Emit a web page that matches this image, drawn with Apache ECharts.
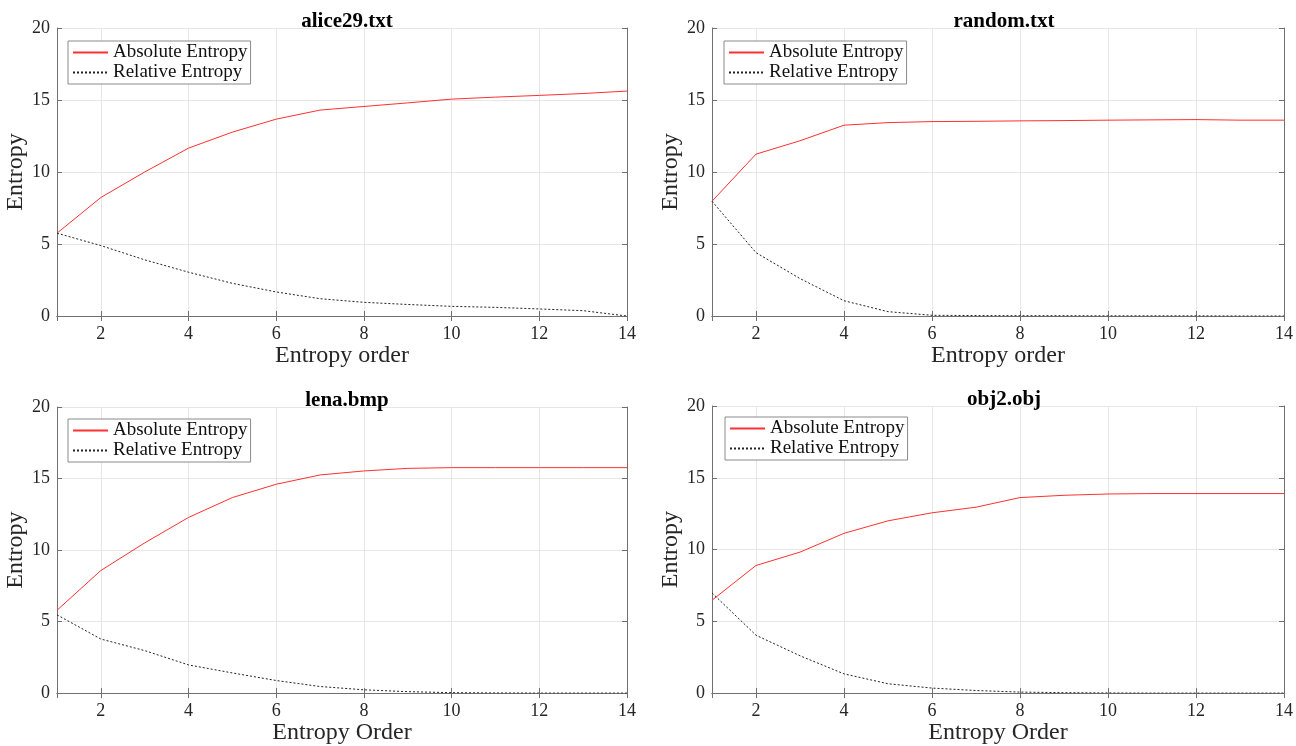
<!DOCTYPE html>
<html>
<head>
<meta charset="utf-8">
<script src="https://cdn.jsdelivr.net/npm/echarts@6/dist/echarts.min.js"></script>
<style>
html,body{margin:0;padding:0;background:#fff;}
#main{width:1296px;height:746px;}
</style>
</head>
<body>
<div id="main"></div>
<script>
// ---- Data ----
const orders = [1,2,3,4,5,6,7,8,9,10,11,12,13,14];
const titles = ['alice29.txt','random.txt','lena.bmp','obj2.obj'];
const xNames = ['Entropy order','Entropy order','Entropy Order','Entropy Order'];
const yName = 'Entropy';
const seriesNames = ['Absolute Entropy','Relative Entropy'];
const yTicks = [0,5,10,15,20];
const xTicks = [2,4,6,8,10,12,14];

const aliceAbs = [5.75,8.23,10.0,11.66,12.77,13.67,14.3,14.55,14.8,15.06,15.2,15.32,15.45,15.62];
const aliceRel = [5.75,4.89,3.9,3.04,2.27,1.67,1.2,0.95,0.8,0.67,0.6,0.49,0.37,0.0];
const randomAbs = [7.97,11.24,12.17,13.25,13.43,13.5,13.52,13.55,13.57,13.6,13.62,13.64,13.6,13.6];
const randomRel = [7.97,4.4,2.6,1.06,0.3,0.05,0.03,0.02,0.02,0.01,0.01,0.01,0.0,0.0];
const lenaAbs = [5.79,8.57,10.5,12.28,13.67,14.6,15.25,15.53,15.71,15.76,15.76,15.76,15.76,15.76];
const lenaRel = [5.47,3.78,2.97,1.97,1.41,0.88,0.46,0.23,0.1,0.03,0.01,0.0,0.0,0.0];
const objAbs = [6.47,8.89,9.82,11.13,12.0,12.56,12.95,13.62,13.78,13.87,13.9,13.9,13.9,13.9];
const objRel = [6.98,4.03,2.6,1.34,0.65,0.35,0.18,0.07,0.03,0.01,0.0,0.0,0.0,0.0];

const absData = [aliceAbs, randomAbs, lenaAbs, objAbs];
const relData = [aliceRel, randomRel, lenaRel, objRel];

// ---- Layout ----
const FONT = "'Liberation Serif', 'Times New Roman', serif";
const grids = [
  {left:57, top:28, width:570, height:288},
  {left:712, top:28, width:574, height:288},
  {left:57, top:407, width:570, height:287},
  {left:712, top:406, width:574, height:288}
];
const legendPos = [
  {left:68, top:41},
  {left:724, top:41},
  {left:68, top:419},
  {left:725, top:417}
];

const AXIS_COLOR = '#707070';
const LABEL_COLOR = '#262626';
const GRID_COLOR = '#e6e6e6';

const option = {
  backgroundColor:'#fff',
  animation:false,
  title:[], grid:[], xAxis:[], yAxis:[], legend:[], series:[]
};

grids.forEach((g, i) => {
  option.grid.push(Object.assign({containLabel:false}, g));
  option.title.push({
    text: titles[i],
    left: g.left + g.width/2,
    top: g.top - 22,
    textAlign: 'center',
    textStyle: {fontFamily: FONT, fontSize: 21, fontWeight: 'bold', color: '#000'}
  });
  const xBase = {
    type:'value', gridIndex:i, min:1, max:14, minInterval:2, maxInterval:2, splitNumber:7,
    axisLine:{show:true, lineStyle:{color:AXIS_COLOR, width:1}},
    axisTick:{show:true, inside:true, length:5, lineStyle:{color:AXIS_COLOR}}
  };
  option.xAxis.push(Object.assign({}, xBase, {
    position:'bottom',
    name: xNames[i], nameLocation:'middle', nameGap:27,
    nameTextStyle:{fontFamily:FONT, fontSize:24, color:LABEL_COLOR, verticalAlign:'top'},
    axisLabel:{show:true, showMinLabel:false, margin:9, fontFamily:FONT, fontSize:18, color:LABEL_COLOR,
      formatter: v => xTicks.includes(v) ? String(v) : ''},
    splitLine:{show:true, lineStyle:{color:GRID_COLOR, width:1}}
  }));
  option.xAxis.push(Object.assign({}, xBase, {
    position:'top', axisLabel:{show:false}, splitLine:{show:false}
  }));
  const yBase = {
    type:'value', gridIndex:i, min:yTicks[0], max:yTicks[yTicks.length-1], interval:5,
    axisLine:{show:true, lineStyle:{color:AXIS_COLOR, width:1}},
    axisTick:{show:true, inside:true, length:5, lineStyle:{color:AXIS_COLOR}}
  };
  option.yAxis.push(Object.assign({}, yBase, {
    position:'left',
    name: yName, nameLocation:'middle', nameGap:25, nameRotate:90,
    nameTextStyle:{fontFamily:FONT, fontSize:24, color:LABEL_COLOR},
    axisLabel:{show:true, margin:7, fontFamily:FONT, fontSize:18, color:LABEL_COLOR},
    splitLine:{show:true, lineStyle:{color:GRID_COLOR, width:1}}
  }));
  option.yAxis.push(Object.assign({}, yBase, {
    position:'right', axisLabel:{show:false}, splitLine:{show:false}
  }));
  option.legend.push({
    left: legendPos[i].left, top: legendPos[i].top,
    orient:'vertical',
    data: seriesNames,
    backgroundColor:'#fff',
    borderColor:'#8a8a8a', borderWidth:1, borderRadius:0,
    padding:[2,3,2,4],
    itemGap:1,
    itemWidth:35, itemHeight:14,
    selectedMode:false,
    itemStyle:{opacity:0},
    textStyle:{fontFamily:FONT, fontSize:19, color:'#111', lineHeight:19, padding:[0,0,0,0]}
  });
  option.series.push({
    name: seriesNames[0], type:'line', xAxisIndex:i*2, yAxisIndex:i*2,
    symbol:'none', showSymbol:false, silent:true,
    lineStyle:{color:'#ff3030', width:1},
    itemStyle:{color:'#ff3030'},
    data: orders.map((x, k) => [x, absData[i][k]]),
    z:3
  });
  option.series.push({
    name: seriesNames[1], type:'line', xAxisIndex:i*2, yAxisIndex:i*2,
    symbol:'none', showSymbol:false, silent:true,
    lineStyle:{color:'#222', width:1, type:[2,2]},
    itemStyle:{color:'#222'},
    data: orders.map((x, k) => [x, relData[i][k]]),
    z:3
  });
});

const chart = echarts.init(document.getElementById('main'), null, {renderer:'canvas'});
chart.setOption(option);
</script>
</body>
</html>
